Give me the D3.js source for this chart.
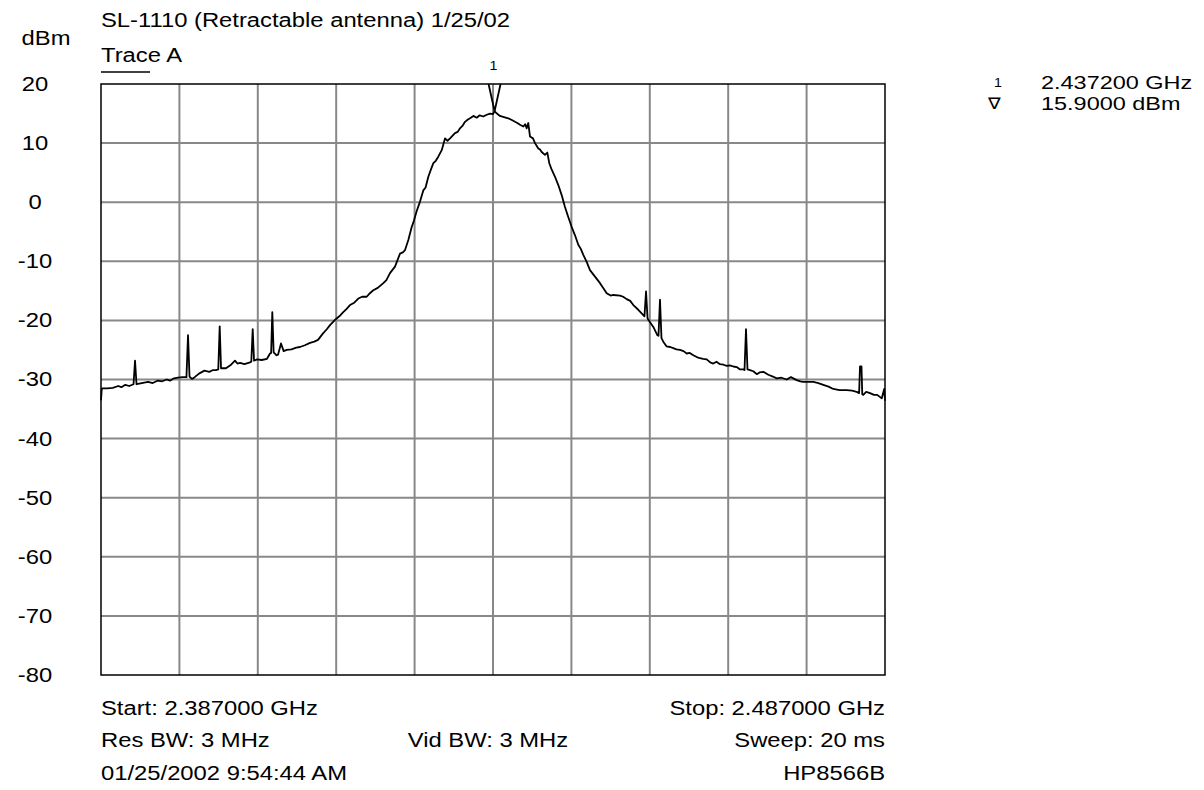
<!DOCTYPE html>
<html>
<head>
<meta charset="utf-8">
<script src="https://cdn.jsdelivr.net/npm/d3@7"></script>
<style>
  body { margin: 0; background: #fff; }
  text { font-family: "Liberation Sans", Arial, sans-serif; fill: #000; }
</style>
</head>
<body>
<svg width="1204" height="790"></svg>
<script>
// Spectrum analyzer sweep (MHz offset from start, dBm)
const startMHz = 2387;
const stopMHz = 2487;
const levelTicks = [20, 10, 0, -10, -20, -30, -40, -50, -60, -70, -80];
const freqGrid = [2387, 2397, 2407, 2417, 2427, 2437, 2447, 2457, 2467, 2477, 2487];

const offsets = [
  0.0, 0.1, 0.8, 1.5, 2.2, 2.6, 3.1, 3.6, 4.15, 4.34, 4.53, 5.2, 6.0, 6.6, 7.2, 7.8,
  8.4, 8.8, 9.3, 9.82, 10.4, 10.9, 11.1, 11.29, 11.6, 11.95, 12.5, 13.2, 13.8, 14.3,
  14.67, 14.96, 15.14, 15.31, 15.94, 16.5, 17.09, 17.4, 17.73, 18.3, 19.0, 19.17, 19.35,
  19.52, 19.9, 20.5, 21.17, 21.56, 21.7, 21.85, 22.02, 22.4, 22.58, 22.96, 23.3, 23.69,
  24.3, 24.9, 25.38, 26.0, 26.66, 27.2, 27.68, 28.32, 28.8, 29.21, 29.94, 30.4, 30.9,
  31.3, 31.76, 32.3, 32.82, 33.3, 33.89, 34.3, 34.73, 35.3, 36.01, 36.4, 36.86, 37.5,
  38.14, 38.5, 38.78, 39.2, 39.63, 39.9, 40.27, 40.69, 41.11, 41.4, 41.75, 42.1, 42.39,
  42.7, 43.02, 43.46, 43.88, 44.2, 44.52, 45.15, 45.5, 45.79, 46.1, 46.43, 46.8, 47.07,
  47.5, 47.92, 48.3, 48.76, 49.2, 49.62, 50.0, 50.2, 50.5, 50.89, 51.4, 51.95, 52.4,
  52.81, 53.1, 53.44, 53.87, 54.1, 54.3, 54.5, 54.72, 55.1, 55.36, 55.78, 56.0, 56.21,
  56.63, 56.93, 57.18, 57.49, 57.91, 58.33, 58.76, 59.18, 59.6, 60.04, 60.46, 60.88,
  61.2, 61.52, 61.95, 62.37, 63.01, 63.65, 64.1, 64.5, 65.0, 65.34, 66.2, 66.6, 67.05,
  67.5, 67.9, 68.53, 69.17, 69.32, 69.52, 69.71, 69.81, 70.45, 70.96, 71.11, 71.3,
  71.49, 71.72, 72.15, 72.6, 73.0, 73.4, 73.85, 74.3, 74.71, 75.1, 75.55, 76.0, 76.4,
  76.8, 77.26, 77.7, 78.1, 78.5, 78.95, 79.4, 79.81, 80.2, 80.65, 81.1, 81.5, 81.9,
  82.08, 82.27, 82.46, 82.78, 83.2, 83.64, 84.0, 84.48, 85.12, 85.7, 86.19, 86.8, 87.46,
  88.0, 88.74, 89.2, 89.58, 90.2, 90.86, 91.5, 92.13, 92.8, 93.41, 94.2, 95.12, 95.8,
  96.39, 96.7, 96.81, 97.0, 97.1, 97.23, 97.6, 98.09, 98.6, 99.0, 99.3, 99.58, 99.9, 100.0
];

const levels = [
  -33.5, -31.5, -31.5, -31.4, -31.1, -31.3, -30.9, -31.1, -30.8, -26.8, -30.8, -30.6, -30.4, -30.6, -30.2, -30.3,
  -30.0, -30.2, -29.8, -29.7, -29.6, -29.6, -22.5, -29.5, -29.9, -29.6, -29.0, -28.5, -28.7, -28.4,
  -28.4, -28.3, -21.0, -28.1, -28.1, -27.6, -26.8, -27.3, -27.2, -27.4, -27.1, -27.0, -21.5,
  -26.8, -26.6, -26.7, -26.5, -25.6, -25.5, -18.6, -25.4, -25.9, -25.8, -23.9, -25.2, -25.0,
  -24.9, -24.6, -24.5, -24.2, -23.8, -23.6, -23.3, -22.2, -21.5, -20.8, -19.8, -19.3, -18.6,
  -18.1, -17.4, -17.0, -16.3, -16.0, -16.0, -15.4, -14.9, -14.5, -13.7, -13.2, -12.0, -10.9,
  -8.7, -8.5, -8.1, -6.4, -4.2, -3.2, -1.5, 0.1, 2.0, 2.5, 4.3, 5.6, 6.6,
  7.0, 7.7, 8.8, 10.8, 10.4, 10.8, 11.7, 11.9, 12.5, 12.9, 13.6, 14.0, 14.2,
  14.6, 14.3, 14.7, 14.5, 14.8, 15.0, 14.9, 15.4, 15.0, 14.6, 14.4, 14.2, 13.9,
  13.6, 13.4, 13.1, 12.8, 13.2, 12.5, 13.4, 11.1, 10.8, 10.0, 9.1, 8.9, 8.5,
  8.0, 8.4, 6.6, 5.5, 4.3, 2.9, 1.2, -0.8, -2.5, -4.2, -5.6, -7.2,
  -7.9, -8.9, -10.1, -11.5, -12.6, -13.7, -14.6, -15.4, -15.8, -15.7, -15.8, -16.0, -16.4,
  -16.7, -17.4, -18.2, -19.1, -19.3, -15.1, -19.6, -19.9, -21.1, -22.5, -22.6, -16.5,
  -23.0, -23.6, -24.4, -24.5, -24.7, -24.9, -25.0, -25.2, -25.6, -25.5, -25.9, -26.2, -26.4,
  -26.5, -26.6, -27.1, -27.3, -27.0, -27.4, -27.5, -27.7, -27.6, -27.8, -27.9, -28.3, -28.3,
  -28.4, -21.5, -28.3, -28.4, -28.6, -29.1, -28.8, -28.7, -29.2, -29.5, -29.8, -29.7, -30.0,
  -29.6, -30.1, -30.3, -30.4, -30.4, -30.4, -30.6, -30.9, -31.2, -31.6, -31.8, -31.8, -31.9,
  -32.1, -32.3, -27.8, -27.8, -32.5, -32.6, -32.1, -32.3, -32.6, -32.6, -32.9, -33.2, -31.6, -33.6
];

const markerFreq = 2437.2;
const markerLevel = 15.9;

const svg = d3.select("svg");
const plotLeft = 101, plotRight = 885, plotTop = 84, plotBottom = 675;
const fs = 20;      // glyph height
const sx = 1.19;    // the printout's text is a little wider than plain Arial

const x = d3.scaleLinear().domain([startMHz, stopMHz]).range([plotLeft, plotRight]);
const y = d3.scaleLinear().domain([-80, 20]).range([plotBottom, plotTop]);

// grid
svg.append("g")
    .selectAll("line")
    .data(freqGrid.slice(1, -1))
    .enter()
    .append("line")
    .attr("x1", d => x(d)).attr("x2", d => x(d))
    .attr("y1", plotTop).attr("y2", plotBottom)
    .attr("stroke", "#888").attr("stroke-width", 2);

svg.append("g")
    .selectAll("line")
    .data(levelTicks.slice(1, -1))
    .enter()
    .append("line")
    .attr("x1", plotLeft).attr("x2", plotRight)
    .attr("y1", d => y(d)).attr("y2", d => y(d))
    .attr("stroke", "#888").attr("stroke-width", 2);

svg.append("rect")
    .attr("x", plotLeft).attr("y", plotTop)
    .attr("width", plotRight - plotLeft).attr("height", plotBottom - plotTop)
    .attr("fill", "none").attr("stroke", "#000").attr("stroke-width", 1.5);

// level labels
const yAxis = d3.axisLeft(y).tickValues(levelTicks).tickSize(0).tickFormat(d => String(d));
const yg = svg.append("g").attr("transform", `translate(${plotLeft},0)`).call(yAxis);
yg.select(".domain").remove();
yg.selectAll("text")
    .attr("x", -66 / sx).attr("text-anchor", "middle")
    .attr("transform", `scale(${sx},1)`)
    .style("font-size", fs + "px").style("font-family", "Liberation Sans, Arial, sans-serif");

// trace
const trace = offsets.map((o, i) => ({ f: startMHz + o, v: levels[i] }));
svg.append("path")
    .datum(trace)
    .attr("fill", "none")
    .attr("stroke", "#000")
    .attr("stroke-width", 1.8)
    .attr("stroke-linejoin", "round")
    .attr("d", d3.line().x(d => x(d.f)).y(d => y(d.v)));

// marker
const mx = x(markerFreq), my = y(markerLevel);
svg.append("path")
    .attr("d", `M${mx - 6},${plotTop} L${mx},${my + 3} L${mx + 6},${plotTop}`)
    .attr("fill", "none").attr("stroke", "#000").attr("stroke-width", 1.8);

// texts
const t = (xx, yy, s, anchor, size, scaleX) => svg.append("text")
    .attr("transform", `translate(${xx},${yy}) scale(${scaleX || sx},1)`)
    .attr("text-anchor", anchor || "start")
    .style("font-size", (size || fs) + "px")
    .text(s);

t(mx - 1, 70, "1", "middle", 12);

t(101, 27, "SL-1110 (Retractable antenna) 1/25/02");
t(46, 45, "dBm", "middle");
t(101, 62, "Trace A");
svg.append("line").attr("x1", 101).attr("x2", 150).attr("y1", 72).attr("y2", 72)
    .attr("stroke", "#000").attr("stroke-width", 1.5);

t(101, 715, "Start: 2.387000 GHz");
t(plotRight, 715, "Stop: 2.487000 GHz", "end");
t(101, 747, "Res BW: 3 MHz");
t(488, 747, "Vid BW: 3 MHz", "middle");
t(plotRight, 747, "Sweep: 20 ms", "end");
t(101, 780, "01/25/2002 9:54:44 AM");
t(plotRight, 780, "HP8566B", "end");

// marker readout
t(998, 87, "1", "middle", 12);
t(1041, 89, "2.437200 GHz", "start", 17.5, 1.34);
t(994, 109, "\u2207", "middle", 16);
t(1041, 110, "15.9000 dBm", "start", 17.5, 1.34);
</script>
</body>
</html>
